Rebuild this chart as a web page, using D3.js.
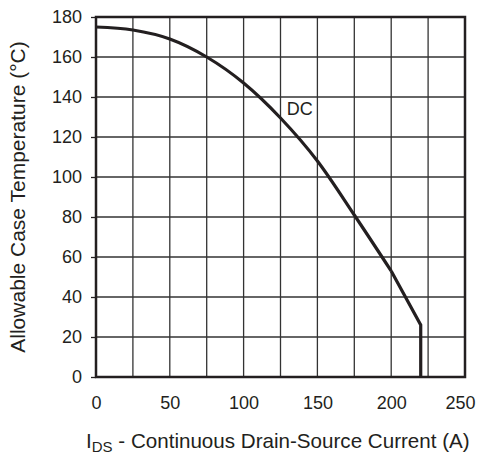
<!DOCTYPE html>
<html>
<head>
<meta charset="utf-8">
<script src="https://cdn.jsdelivr.net/npm/d3@7"></script>
<style>
  body { margin: 0; background: #fff; }
  text { font-family: "Liberation Sans", Arial, sans-serif; fill: #231f20; }
</style>
</head>
<body>
<svg id="chart" width="478" height="453"></svg>
<script>
var width = 478,
  height = 453,
  margin = {top: 17, right: 13, bottom: 76, left: 96};

// curve (current in A, temperature in °C)
var currentA = [0, 25, 50, 75, 100, 125, 150, 175, 200, 220, 220];
var tempC = [175, 173.5, 169, 160, 147, 129.5, 108, 81, 53, 26, 0];
var xTicks = [0, 50, 100, 150, 200, 250];
var yTicks = [0, 20, 40, 60, 80, 100, 120, 140, 160, 180];
var xGrid = [25, 50, 75, 100, 125, 150, 175, 200, 225];
var curveLabel = "DC";

var svg = d3.select("#chart");

var x = d3.scaleLinear()
  .domain([0, 250])
  .range([margin.left, width - margin.right]);

var y = d3.scaleLinear()
  .domain([0, 180])
  .range([height - margin.bottom, margin.top]);

// grid
var grid = svg.append("g").attr("class", "grid");
grid.selectAll(".vline")
  .data(xGrid)
  .enter()
  .append("line")
  .attr("x1", function(d) { return x(d); })
  .attr("x2", function(d) { return x(d); })
  .attr("y1", y(0))
  .attr("y2", y(180))
  .attr("stroke", "#333")
  .attr("stroke-width", 1.3);

grid.selectAll(".hline")
  .data(yTicks.slice(1, -1))
  .enter()
  .append("line")
  .attr("x1", x(0))
  .attr("x2", x(250))
  .attr("y1", function(d) { return y(d); })
  .attr("y2", function(d) { return y(d); })
  .attr("stroke", "#333")
  .attr("stroke-width", 1.3);

// frame
svg.append("rect")
  .attr("x", x(0))
  .attr("y", y(180))
  .attr("width", x(250) - x(0))
  .attr("height", y(0) - y(180))
  .attr("fill", "none")
  .attr("stroke", "#231f20")
  .attr("stroke-width", 2.5);

// y axis
var yAxis = svg.append("g")
  .attr("transform", "translate(" + x(0) + ",0)")
  .call(d3.axisLeft(y).tickValues(yTicks).tickSize(5).tickPadding(9));
yAxis.select(".domain").remove();
yAxis.selectAll("line").attr("stroke", "#231f20").attr("stroke-width", 1.3);
yAxis.selectAll("text")
  .attr("font-size", "18px")
  .attr("font-family", "Liberation Sans, Arial, sans-serif")
  .attr("fill", "#231f20");

// x axis
var xAxis = svg.append("g")
  .attr("transform", "translate(0," + y(0) + ")")
  .call(d3.axisBottom(x).tickValues(xTicks).tickSize(0).tickPadding(19));
xAxis.select(".domain").remove();
xAxis.selectAll("text")
  .attr("font-size", "18px")
  .attr("font-family", "Liberation Sans, Arial, sans-serif")
  .attr("fill", "#231f20")
  .attr("dx", function(d) { return d === 250 ? -5 : 0; });

// curve
var idx = d3.range(currentA.length);

var smooth = d3.line()
  .x(function(i) { return x(currentA[i]); })
  .y(function(i) { return y(tempC[i]); })
  .curve(d3.curveMonotoneX);

var line = d3.line()
  .x(function(i) { return x(currentA[i]); })
  .y(function(i) { return y(tempC[i]); });

svg.append("path")
  .attr("d", smooth(idx.slice(0, 9)))
  .attr("fill", "none")
  .attr("stroke", "#231f20")
  .attr("stroke-width", 3.2);

svg.append("path")
  .attr("d", line(idx.slice(8)))
  .attr("fill", "none")
  .attr("stroke", "#231f20")
  .attr("stroke-width", 3.2)
  .attr("stroke-linejoin", "miter");

svg.append("text")
  .attr("x", x(138))
  .attr("y", y(134))
  .attr("dy", "0.35em")
  .attr("text-anchor", "middle")
  .attr("font-size", "18px")
  .text(curveLabel);

// axis titles
svg.append("text")
  .attr("transform", "translate(25," + ((y(0) + y(180)) / 2) + ") rotate(-90)")
  .attr("text-anchor", "middle")
  .attr("font-size", "21px")
  .text("Allowable Case Temperature (°C)");

var xt = svg.append("text")
  .attr("x", 86)
  .attr("y", 448)
  .attr("font-size", "20.6px");
xt.append("tspan").text("I");
xt.append("tspan").attr("font-size", "15px").attr("baseline-shift", "-4px").text("DS");
xt.append("tspan").text(" - Continuous Drain-Source Current (A)");
</script>
</body>
</html>
